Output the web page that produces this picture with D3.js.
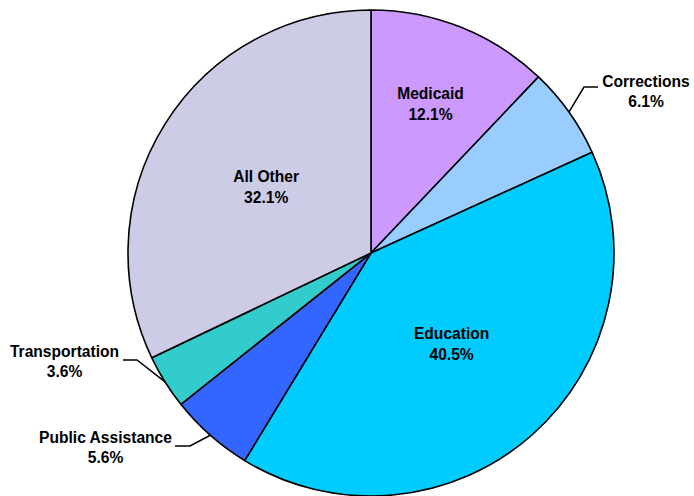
<!DOCTYPE html>
<html>
<head>
<meta charset="utf-8">
<script src="https://cdn.jsdelivr.net/npm/d3@7"></script>
<style>
  html, body { margin: 0; padding: 0; background: #ffffff; }
  svg { display: block; }
  text { font-family: "Liberation Sans", Arial, sans-serif; font-weight: bold; font-size: 15.6px; fill: #000; }
</style>
</head>
<body>
<svg id="chart" width="694" height="496"></svg>
<script>
// ---- data ----
const categories = ["Medicaid", "Corrections", "Education", "Public Assistance", "Transportation", "All Other"];
const values = [12.1, 6.1, 40.5, 5.6, 3.6, 32.1];
const valueLabels = ["12.1%", "6.1%", "40.5%", "5.6%", "3.6%", "32.1%"];
const colors = ["#CC99FF", "#99CCFF", "#00CCFF", "#3366FF", "#33CCCC", "#CCCCE6"];

// ---- layout ----
const W = 694, H = 496;
const cx = 371, cy = 253, R = 243;
// inside labels: radius factor along mid-angle
const insideLabel = { "Medicaid": 0.66, "Education": 0.50, "All Other": 0.51 };
// outside labels: elbow point, leader end, text centre / first baseline
const outsideLabel = {
  "Corrections":       { elbow: [584, 87],  end: [598, 87],  tx: 646,   ty: 87 },
  "Public Assistance": { elbow: [190, 446], end: [175, 446], tx: 105.5, ty: 443 },
  "Transportation":    { elbow: [137, 360], end: [123, 360], tx: 64.5,  ty: 357 }
};
const lineGap = 20;

const svg = d3.select("#chart");
const g = svg.append("g").attr("transform", `translate(${cx},${cy})`);

const data = categories.map((c, i) => ({ name: c, value: values[i], label: valueLabels[i], color: colors[i] }));
const pie = d3.pie().sort(null).value(d => d.value).startAngle(0).endAngle(2 * Math.PI);
const arcs = pie(data);
const arc = d3.arc().innerRadius(0).outerRadius(R);

g.selectAll("path.slice")
  .data(arcs)
  .enter().append("path")
  .attr("class", "slice")
  .attr("d", arc)
  .attr("fill", d => d.data.color)
  .attr("stroke", "#000")
  .attr("stroke-width", 1.6)
  .attr("stroke-linejoin", "round");

function polar(a, r) { return [Math.sin(a) * r, -Math.cos(a) * r]; }

arcs.forEach(d => {
  const name = d.data.name;
  const mid = (d.startAngle + d.endAngle) / 2;
  if (insideLabel[name] !== undefined) {
    const [x, y] = polar(mid, R * insideLabel[name]);
    const t = g.append("text").attr("text-anchor", "middle");
    t.append("tspan").attr("x", x).attr("y", y - 5).text(name);
    t.append("tspan").attr("x", x).attr("y", y - 5 + 21).text(d.data.label);
  } else if (outsideLabel[name]) {
    const o = outsideLabel[name];
    const [px, py] = polar(mid, R);
    const pts = [[px + cx, py + cy], o.elbow, o.end];
    svg.append("path")
      .attr("d", d3.line()(pts))
      .attr("fill", "none")
      .attr("stroke", "#000")
      .attr("stroke-width", 1.5);
    const t = svg.append("text").attr("text-anchor", "middle");
    t.append("tspan").attr("x", o.tx).attr("y", o.ty).text(name);
    t.append("tspan").attr("x", o.tx).attr("y", o.ty + lineGap).text(d.data.label);
  }
});
</script>
</body>
</html>
